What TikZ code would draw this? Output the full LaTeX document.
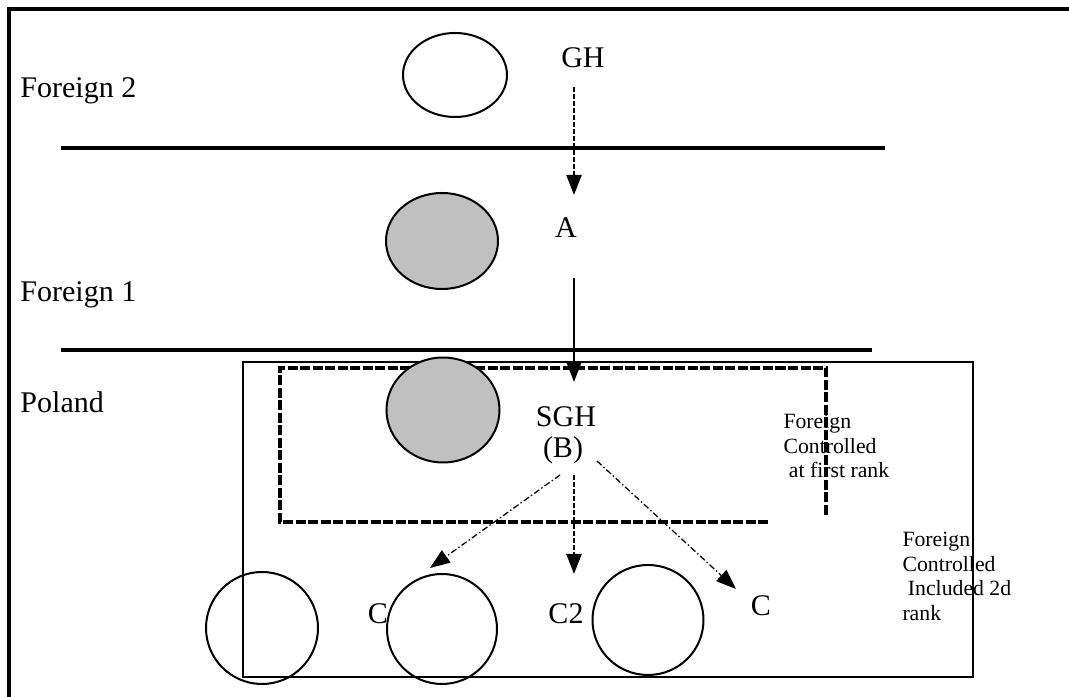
\documentclass[tikz,border=0pt]{standalone}
\usepackage{fontspec}
\setmainfont{Liberation Serif}
\usetikzlibrary{shapes.geometric,arrows.meta}
\pgfdeclarelayer{edgelayer}
\pgfdeclarelayer{nodelayer}
\pgfsetlayers{edgelayer,nodelayer,main}
\definecolor{shade}{RGB}{192,192,192}
\tikzstyle{outline}=[draw=black, line width=1.3pt]
\tikzstyle{divider}=[draw=black, line width=1.9pt]
\tikzstyle{zone}=[draw=black, line width=0.8pt]
\tikzstyle{rankzone}=[draw=black, line width=1.4pt, dash pattern=on 4pt off 1pt]
\tikzstyle{firm}=[ellipse, draw=black, line width=0.8pt, inner sep=0pt]
\tikzstyle{held}=[firm, fill=shade]
\tikzstyle{tag}=[font=\fontsize{12}{14}\selectfont, inner sep=0pt, anchor=base]
\tikzstyle{country}=[tag, anchor=base west]
\tikzstyle{note}=[font=\fontsize{8.7}{9.8}\selectfont, align=left, inner sep=0pt, anchor=north west]
\tikzstyle{link}=[draw=black, line width=0.9pt, dash pattern=on 2pt off 0.8pt, -{Triangle[width=6pt,length=8pt]}]
\tikzstyle{solidlink}=[draw=black, line width=0.6pt, -{Triangle[width=6pt,length=8pt]}]
\tikzstyle{sidelink}=[draw=black, line width=0.5pt, dash pattern=on 2.5pt off 1pt on 0.6pt off 1pt, -{Triangle[width=6pt,length=8pt]}]

\begin{document}
\begin{tikzpicture}[x=0.4pt, y=-0.4pt]
				\useasboundingbox (0,0) rectangle (1069,697);
				\begin{pgfonlayer}{nodelayer}
					\node [style=firm, minimum width=41.6pt, minimum height=33.6pt] (0) at (455, 75) {};
					\node [style=held, minimum width=44.8pt, minimum height=38.4pt] (1) at (442, 241) {};
					\node [style=held, minimum width=45.2pt, minimum height=42pt] (2) at (443, 410) {};
					\node [style=firm, minimum width=44.8pt, minimum height=44.8pt] (3) at (262, 628) {};
					\node [style=firm, minimum width=44pt, minimum height=44pt] (4) at (442, 629) {};
					\node [style=firm, minimum width=44.4pt, minimum height=44pt] (5) at (648, 620) {};
					\node [style=tag] (6) at (583, 68) {GH};
					\node [style=tag] (7) at (566, 238) {A};
					\node [style=tag] (8) at (566, 427) {SGH};
					\node [style=tag] (9) at (563, 458) {(B)};
					\node [style=tag] (10) at (378, 624) {C};
					\node [style=tag] (11) at (566, 624) {C2};
					\node [style=tag] (12) at (761, 616) {C};
					\node [style=country] (13) at (20, 98) {Foreign 2};
					\node [style=country] (14) at (20, 302) {Foreign 1};
					\node [style=country] (15) at (20, 413) {Poland};
					\node [style=note] (16) at (783, 414) {Foreign\\Controlled\\\hspace*{0.25em}at first rank};
					\node [style=note] (17) at (902, 532) {Foreign\\Controlled\\\hspace*{0.25em}Included 2d\\rank};
				\end{pgfonlayer}
				\begin{pgfonlayer}{edgelayer}
					\draw [style=outline] (9, 697) -- (9, 9) -- (1069, 9);
					\draw [style=divider] (61, 148) -- (885, 148);
					\draw [style=divider] (61, 350) -- (872, 350);
					\draw [style=zone] (243, 362) rectangle (973, 677);
					\draw [style=rankzone] (826, 515) -- (826, 368) -- (280, 368) -- (280, 522) -- (770, 522);
					\coordinate (a0) at (574, 87);
					\coordinate (a1) at (574, 195);
					\coordinate (b0) at (574, 278);
					\coordinate (b1) at (574, 382);
					\coordinate (c0) at (560, 475);
					\coordinate (c1) at (430, 568);
					\coordinate (d0) at (574, 475);
					\coordinate (d1) at (574, 574);
					\coordinate (e0) at (597, 461);
					\coordinate (e1) at (736, 589);
					\draw [style=link] (a0) to (a1);
					\draw [style=solidlink] (b0) to (b1);
					\draw [style=sidelink] (c0) to (c1);
					\draw [style=link] (d0) to (d1);
					\draw [style=sidelink] (e0) to (e1);
				\end{pgfonlayer}
			\end{tikzpicture}
\end{document}
